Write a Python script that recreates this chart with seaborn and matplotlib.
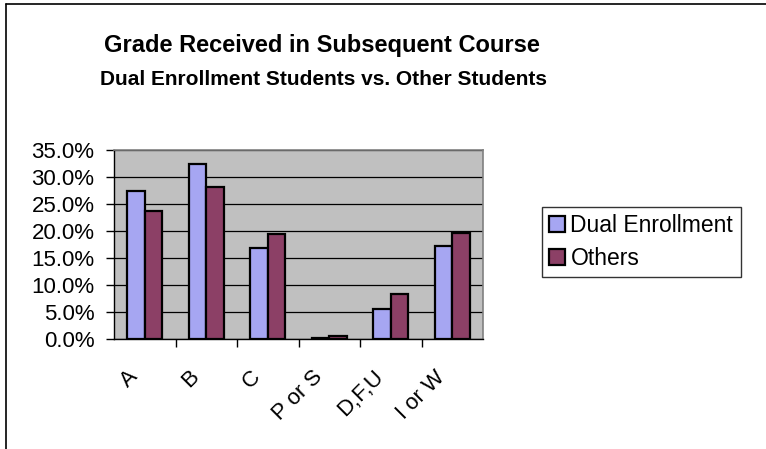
import seaborn as sns
import matplotlib.pyplot as plt
import pandas as pd
import numpy as np
from matplotlib.ticker import FuncFormatter, FixedLocator
from matplotlib.lines import Line2D
from matplotlib.transforms import ScaledTranslation

# values (fractions)
grades = ["A", "B", "C", "P or S", "D,F,U", "I or W"]
dual_enrollment = [0.275, 0.324, 0.168, 0.003, 0.056, 0.173]
others = [0.237, 0.282, 0.194, 0.006, 0.084, 0.197]
groups = ["Dual Enrollment", "Others"]

df = pd.DataFrame({
    "grade": grades * 2,
    "share": dual_enrollment + others,
    "group": [groups[0]] * len(grades) + [groups[1]] * len(grades),
})

sns.set_style("white")
plt.rcParams['font.family'] = ['Liberation Sans', 'DejaVu Sans']
plt.rcParams['text.color'] = 'black'
plt.rcParams['xtick.color'] = 'black'
plt.rcParams['ytick.color'] = 'black'
plt.rcParams['axes.labelcolor'] = 'black'

fig = plt.figure(figsize=(7.66, 4.49), dpi=100)
ax = fig.add_axes([114 / 766, 1 - 339.3 / 449, (483 - 114) / 766, (339.3 - 150) / 449])
ax.set_facecolor("#C0C0C0")

sns.barplot(data=df, x="grade", y="share", hue="group", order=grades,
            palette={"Dual Enrollment": "#9999FF", "Others": "#993366"},
            width=0.571, edgecolor="black", linewidth=1.6, ax=ax, zorder=3)

ax.set_ylim(0, 0.35)
ax.set_xlim(-0.5, len(grades) - 0.5)
ax.set_yticks(np.arange(0, 0.351, 0.05))
ax.yaxis.set_major_formatter(FuncFormatter(lambda v, p: f"{v * 100:.1f}%"))
ax.grid(axis="y", color="black", linewidth=0.9, zorder=1)
ax.set_axisbelow(True)
ax.set_xlabel("")
ax.set_ylabel("")

for s in ["top", "right"]:
    ax.spines[s].set_color("#808080")
    ax.spines[s].set_linewidth(1.2)
for s in ["left", "bottom"]:
    ax.spines[s].set_color("black")
    ax.spines[s].set_linewidth(1.0)

ax.tick_params(axis="y", which="major", direction="out", length=6, width=1,
               color="black", labelcolor="black", labelsize=16, pad=8, left=True)
ax.tick_params(axis="x", which="major", length=0, labelsize=16, pad=25,
               labelcolor="black")
ax.xaxis.set_minor_locator(FixedLocator(np.arange(0.5, len(grades) - 0.5, 1)))
ax.tick_params(axis="x", which="minor", direction="out", length=6, width=1,
               color="black", bottom=True)
shift = ScaledTranslation(-10 / 100, 0, fig.dpi_scale_trans)
for lab in ax.get_xticklabels():
    lab.set_rotation(45)
    lab.set_ha("right")
    lab.set_va("center")
    lab.set_rotation_mode("anchor")
    lab.set_transform(lab.get_transform() + shift)

leg = ax.legend(loc="upper left", bbox_to_anchor=(542 / 766, 1 - 207 / 449),
                bbox_transform=fig.transFigure, frameon=True, fancybox=False,
                fontsize=16.5, handlelength=0.7, handleheight=0.7, handletextpad=0.22,
                borderpad=0.32, labelspacing=0.42, borderaxespad=0)
leg.get_frame().set_edgecolor("black")
leg.get_frame().set_linewidth(1.0)
for h in leg.legend_handles:
    h.set_edgecolor("black")
    h.set_linewidth(1.6)
for t in leg.get_texts():
    t.set_color("black")

fig.text(321.5 / 766, 1 - 52 / 449, "Grade Received in Subsequent Course",
         ha="center", va="baseline", fontsize=17, fontweight="bold", color="black")
fig.text(324 / 766, 1 - 85 / 449, "Dual Enrollment Students vs. Other Students",
         ha="center", va="baseline", fontsize=15, fontweight="bold", color="black")

# chart frame (top and left edges visible in the reference)
fig.add_artist(Line2D([6 / 766, 6 / 766], [0, 1 - 4 / 449], transform=fig.transFigure,
                      color="black", linewidth=1.2))
fig.add_artist(Line2D([6 / 766, 1], [1 - 4 / 449, 1 - 4 / 449], transform=fig.transFigure,
                      color="black", linewidth=1.2))

fig.savefig("out.png", dpi=100)
